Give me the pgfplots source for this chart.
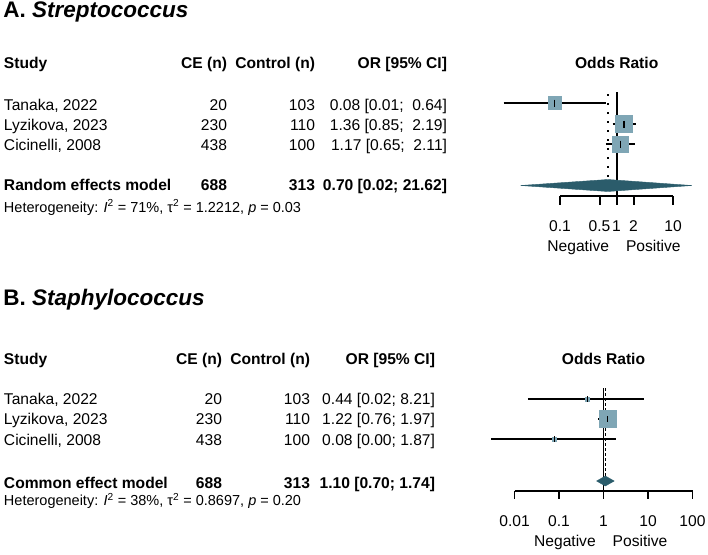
\documentclass[border=0pt]{standalone}
\usepackage{fontspec}
\setmainfont{Liberation Sans}
\usepackage{pgfplots}
\pgfplotsset{compat=1.18}
\definecolor{sqcol}{RGB}{127,166,181}
\definecolor{diacol}{RGB}{43,92,107}
\newcommand{\tf}{\fontsize{15.6}{18}\selectfont}
\newcommand{\hf}{\fontsize{14.5}{16}\selectfont}
\newcommand{\ttl}{\fontsize{22.5}{26}\selectfont\bfseries}
\begin{document}
\begin{tikzpicture}[every node/.style={inner sep=0pt,outer sep=0pt,font=\tf}]
\useasboundingbox (0pt,0pt) rectangle (708pt,-554pt);
\begin{scope}[x=1pt,y=1pt]
% ---------- Panel A text ----------
\node[anchor=base west,font=\ttl] at (3.3,-17.3) {A. \textit{Streptococcus}};
\node[anchor=base west,font=\tf\bfseries] at (4,-68.3) {Study};
\node[anchor=base east,font=\tf\bfseries] at (227,-68.3) {CE (n)};
\node[anchor=base east,font=\tf\bfseries] at (315,-68.3) {Control (n)};
\node[anchor=base east,font=\tf\bfseries] at (447,-68.3) {OR [95\% CI]};
\node[anchor=base,font=\tf\bfseries] at (616.7,-68.3) {Odds Ratio};
\node[anchor=base west] at (4,-110) {Tanaka, 2022};
\node[anchor=base east] at (227,-110) {20};
\node[anchor=base east] at (315,-110) {103};
\node[anchor=base east] at (447,-110) {0.08 [0.01;\ \ 0.64]};
\node[anchor=base west] at (4,-130.3) {Lyzikova, 2023};
\node[anchor=base east] at (227,-130.3) {230};
\node[anchor=base east] at (315,-130.3) {110};
\node[anchor=base east] at (447,-130.3) {1.36 [0.85;\ \ 2.19]};
\node[anchor=base west] at (4,-150.5) {Cicinelli, 2008};
\node[anchor=base east] at (227,-150.5) {438};
\node[anchor=base east] at (315,-150.5) {100};
\node[anchor=base east] at (447,-150.5) {1.17 [0.65;\ \ 2.11]};
\node[anchor=base west,font=\tf\bfseries] at (4,-190.7) {Random effects model};
\node[anchor=base east,font=\tf\bfseries] at (227,-190.7) {688};
\node[anchor=base east,font=\tf\bfseries] at (315,-190.7) {313};
\node[anchor=base east,font=\tf\bfseries] at (447,-190.7) {0.70 [0.02; 21.62]};
\node[anchor=base west,font=\hf] at (4,-212) {Heterogeneity: \textit{I}\textsuperscript{2} = 71\%, τ\textsuperscript{2} = 1.2212, \textit{p} = 0.03};
\node[anchor=base east] at (609,-251) {Negative};
\node[anchor=base west] at (626,-251) {Positive};
% ---------- Panel B text ----------
\node[anchor=base west,font=\ttl] at (3.3,-305) {B. \textit{Staphylococcus}};
\node[anchor=base west,font=\tf\bfseries] at (4,-364.3) {Study};
\node[anchor=base east,font=\tf\bfseries] at (222,-364.3) {CE (n)};
\node[anchor=base east,font=\tf\bfseries] at (310,-364.3) {Control (n)};
\node[anchor=base east,font=\tf\bfseries] at (435,-364.3) {OR [95\% CI]};
\node[anchor=base,font=\tf\bfseries] at (603.5,-364.3) {Odds Ratio};
\node[anchor=base west] at (4,-404.5) {Tanaka, 2022};
\node[anchor=base east] at (222,-404.5) {20};
\node[anchor=base east] at (310,-404.5) {103};
\node[anchor=base east] at (435,-404.5) {0.44 [0.02; 8.21]};
\node[anchor=base west] at (4,-424.5) {Lyzikova, 2023};
\node[anchor=base east] at (222,-424.5) {230};
\node[anchor=base east] at (310,-424.5) {110};
\node[anchor=base east] at (435,-424.5) {1.22 [0.76; 1.97]};
\node[anchor=base west] at (4,-445) {Cicinelli, 2008};
\node[anchor=base east] at (222,-445) {438};
\node[anchor=base east] at (310,-445) {100};
\node[anchor=base east] at (435,-445) {0.08 [0.00; 1.87]};
\node[anchor=base west,font=\tf\bfseries] at (4,-488.3) {Common effect model};
\node[anchor=base east,font=\tf\bfseries] at (222,-488.3) {688};
\node[anchor=base east,font=\tf\bfseries] at (310,-488.3) {313};
\node[anchor=base east,font=\tf\bfseries] at (435,-488.3) {1.10 [0.70; 1.74]};
\node[anchor=base west,font=\hf] at (4,-505.7) {Heterogeneity: \textit{I}\textsuperscript{2} = 38\%, τ\textsuperscript{2} = 0.8697, \textit{p} = 0.20};
\node[anchor=base east] at (595.7,-546) {Negative};
\node[anchor=base west] at (612.7,-546) {Positive};
\end{scope}
% ---------- Panel A forest ----------
\begin{axis}[at={(486.5pt,-80pt)},anchor=north west,scale only axis,
  width=213.5pt,height=180pt,xmode=log,xmin=0.005,xmax=30,ymin=80,ymax=260,
  y dir=reverse,axis lines=none,clip=false]
\addplot[black,line width=2pt] coordinates {(1,92) (1,196)};
\addplot[black,line width=2pt,dash pattern=on 2pt off 7pt] coordinates {(0.70,94) (0.70,180)};
% squares
\addplot[only marks,mark=square*,mark size=6.5pt,mark options={fill=sqcol,draw=sqcol}] coordinates {(0.08,103)};
\addplot[only marks,mark=square*,mark size=8.5pt,mark options={fill=sqcol,draw=sqcol}] coordinates {(1.36,124)};
\addplot[only marks,mark=square*,mark size=8.2pt,mark options={fill=sqcol,draw=sqcol}] coordinates {(1.17,144)};
% CIs
\addplot[black,line width=2pt] coordinates {(0.01,103) (0.64,103)};
\addplot[black,line width=2pt] coordinates {(0.85,124) (2.19,124)};
\addplot[black,line width=2pt] coordinates {(0.65,144) (2.11,144)};
\addplot[only marks,mark=|,mark size=3.5pt,mark options={line width=1.5pt,black}] coordinates {(0.08,103) (1.36,124) (1.17,144)};
% diamond
\addplot[fill=diacol,draw=diacol] coordinates {(0.02,185.5) (0.70,179.5) (21.62,185.5) (0.70,191.5)} -- cycle;
% x axis
\addplot[black,line width=2pt] coordinates {(0.1,196) (10,196)};
\addplot[black,line width=2pt,unbounded coords=jump] coordinates {(0.1,196) (0.1,205) (nan,nan) (0.5,196) (0.5,205) (nan,nan) (1,196) (1,205) (nan,nan) (2,196) (2,205) (nan,nan) (10,196) (10,205)};
\node[anchor=base] at (axis cs:0.1,231.7) {0.1};
\node[anchor=base] at (axis cs:0.5,231.7) {0.5};
\node[anchor=base] at (axis cs:1,231.7) {1};
\node[anchor=base] at (axis cs:2,231.7) {2};
\node[anchor=base] at (axis cs:10,231.7) {10};
\end{axis}
% ---------- Panel B forest ----------
\begin{axis}[at={(470pt,-370pt)},anchor=north west,scale only axis,
  width=222.5pt,height=190pt,xmode=log,xmin=0.001,xmax=100,ymin=370,ymax=560,
  y dir=reverse,axis lines=none,clip=false]
\addplot[black,line width=1.4pt] coordinates {(1,388) (1,491)};
\addplot[black,line width=1.4pt,dash pattern=on 3pt off 2pt] coordinates {(1.10,388) (1.10,476)};
\addplot[only marks,mark=square*,mark size=2pt,mark options={fill=sqcol,draw=sqcol}] coordinates {(0.44,399)};
\addplot[only marks,mark=square*,mark size=8.5pt,mark options={fill=sqcol,draw=sqcol}] coordinates {(1.22,419)};
\addplot[only marks,mark=square*,mark size=2pt,mark options={fill=sqcol,draw=sqcol}] coordinates {(0.08,439)};
\addplot[black,line width=1.4pt] coordinates {(0.02,399) (8.21,399)};
\addplot[black,line width=1.4pt] coordinates {(0.76,419) (1.97,419)};
\addplot[black,line width=1.4pt] coordinates {(0.003,439) (1.87,439)};
\addplot[only marks,mark=|,mark size=3pt,mark options={line width=1.3pt,black}] coordinates {(0.44,399) (1.22,419) (0.08,439)};
\addplot[fill=diacol,draw=diacol] coordinates {(0.70,481) (1.10,476) (1.74,481) (1.10,486)} -- cycle;
\addplot[black,line width=1.5pt] coordinates {(0.01,491) (100,491)};
\addplot[black,line width=1.5pt,unbounded coords=jump] coordinates {(0.01,491) (0.01,499) (nan,nan) (0.1,491) (0.1,499) (nan,nan) (1,491) (1,499) (nan,nan) (10,491) (10,499) (nan,nan) (100,491) (100,499)};
\node[anchor=base] at (axis cs:0.01,526.7) {0.01};
\node[anchor=base] at (axis cs:0.1,526.7) {0.1};
\node[anchor=base] at (axis cs:1,526.7) {1};
\node[anchor=base] at (axis cs:10,526.7) {10};
\node[anchor=base] at (axis cs:100,526.7) {100};
\end{axis}
\end{tikzpicture}
\end{document}
